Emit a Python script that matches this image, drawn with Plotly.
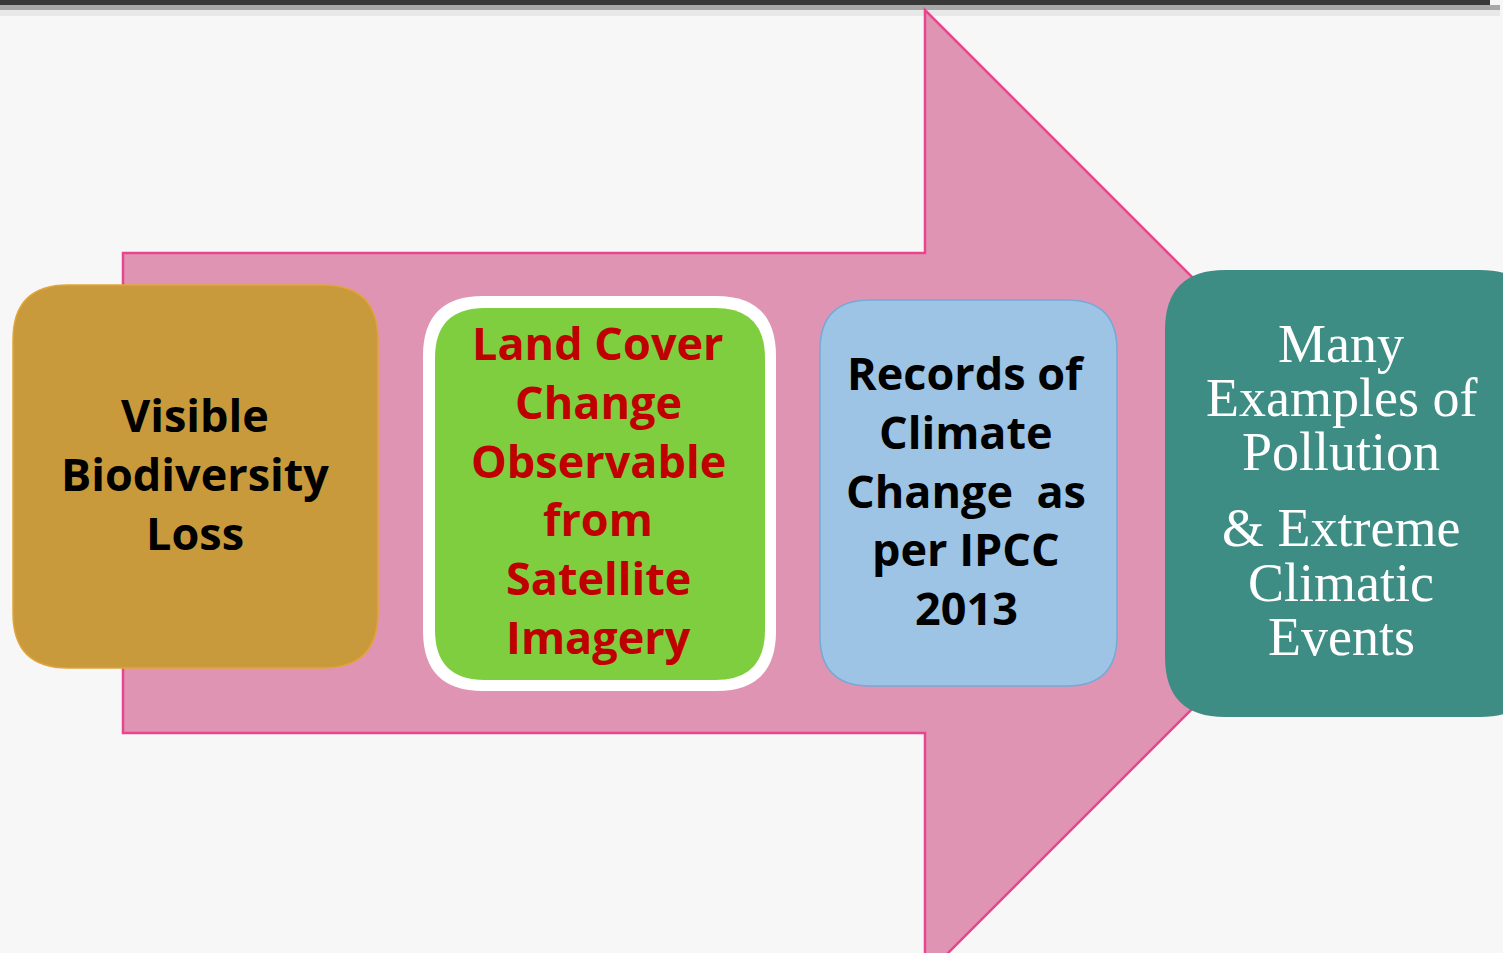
import plotly.graph_objects as go

# ---- content ----
box1_lines = ["Visible", "Biodiversity", "Loss"]
box2_lines = ["Land Cover", "Change", "Observable", "from", "Satellite", "Imagery"]
box3_lines = ["Records of", "Climate", "Change  as", "per IPCC", "2013"]
box4a_lines = ["Many", "Examples of", "Pollution"]
box4b_lines = ["& Extreme", "Climatic", "Events"]

# ---- geometry (pixels, y downwards) ----
W, H = 1503, 953
BG = "#F7F7F7"


def rrect(x0, y0, x1, y1, r):
    return (f"M {x0+r},{y0} L {x1-r},{y0} Q {x1},{y0} {x1},{y0+r} "
            f"L {x1},{y1-r} Q {x1},{y1} {x1-r},{y1} L {x0+r},{y1} "
            f"Q {x0},{y1} {x0},{y1-r} L {x0},{y0+r} Q {x0},{y0} {x0+r},{y0} Z")


shapes = []
# top dark edge with shadow
shapes.append(dict(type="rect", x0=0, x1=1500, y0=10, y1=16, fillcolor="#E8E8E8", line_width=0, layer="below"))
shapes.append(dict(type="rect", x0=0, x1=1500, y0=5, y1=10, fillcolor="#A8A8A8", line_width=0, layer="below"))
shapes.append(dict(type="rect", x0=0, x1=1490, y0=0, y1=5, fillcolor="#383838", line_width=0, layer="below"))

# arrow
ay0, ay1 = 253, 733
hx, htop = 925, 10
hbot = 976
tipx = hx + (hbot - htop) / 2
tipy = (htop + hbot) / 2
arrow = (f"M 123,{ay0} L {hx},{ay0} L {hx},{htop} L {tipx},{tipy} "
         f"L {hx},{hbot} L {hx},{ay1} L 123,{ay1} Z")
shapes.append(dict(type="path", path=arrow, fillcolor="#E094B4",
                   line=dict(color="#E8468C", width=2.5)))

# box 1 gold
shapes.append(dict(type="path", path=rrect(13, 285, 378, 668, 55),
                   fillcolor="#C99A3B", line=dict(color="#E2A43A", width=1.5)))
# box 2 green with white border
shapes.append(dict(type="path", path=rrect(423, 296, 776, 691, 60),
                   fillcolor="#FFFFFF", line=dict(color="#FFFFFF", width=0)))
shapes.append(dict(type="path", path=rrect(435, 308, 765, 680, 50),
                   fillcolor="#7FCE3F", line=dict(color="#7FCE3F", width=0)))
# box 3 blue
shapes.append(dict(type="path", path=rrect(820, 300, 1117, 686, 50),
                   fillcolor="#9DC4E4", line=dict(color="#74AAD6", width=1.5)))
# box 4 teal
shapes.append(dict(type="path", path=rrect(1165, 270, 1540, 717, 60),
                   fillcolor="#3D8D84", line=dict(color="#3D8D84", width=0)))

annotations = []


def add_lines(lines, cx, ys, color, family, size, weight):
    for t, y in zip(lines, ys):
        annotations.append(dict(x=cx, y=y, text=t, showarrow=False, xanchor="center",
                                yanchor="middle",
                                font=dict(family=family, size=size, color=color, weight=weight)))


sans = "Open Sans"
add_lines(box1_lines, 195, [414, 473, 532], "#000000", sans, 45, "bold")
add_lines(box2_lines, 598, [342, 401, 460, 518, 577, 636], "#C00000", sans, 45, "bold")
add_lines(box3_lines, 966, [372, 431, 490, 548, 607], "#000000", sans, 45, "bold")
serif = "Liberation Serif"
add_lines(box4a_lines, 1341, [344, 398, 452], "#FFFFFF", serif, 54, "normal")
add_lines(box4b_lines, 1341, [528, 583, 637], "#FFFFFF", serif, 54, "normal")

fig = go.Figure()
fig.update_layout(
    width=W, height=H, margin=dict(l=0, r=0, t=0, b=0),
    paper_bgcolor=BG, plot_bgcolor=BG,
    xaxis=dict(range=[0, W], visible=False, fixedrange=True),
    yaxis=dict(range=[H, 0], visible=False, fixedrange=True),
    shapes=shapes, annotations=annotations, showlegend=False,
)
fig.write_html("out.html", config={"displayModeBar": False})
